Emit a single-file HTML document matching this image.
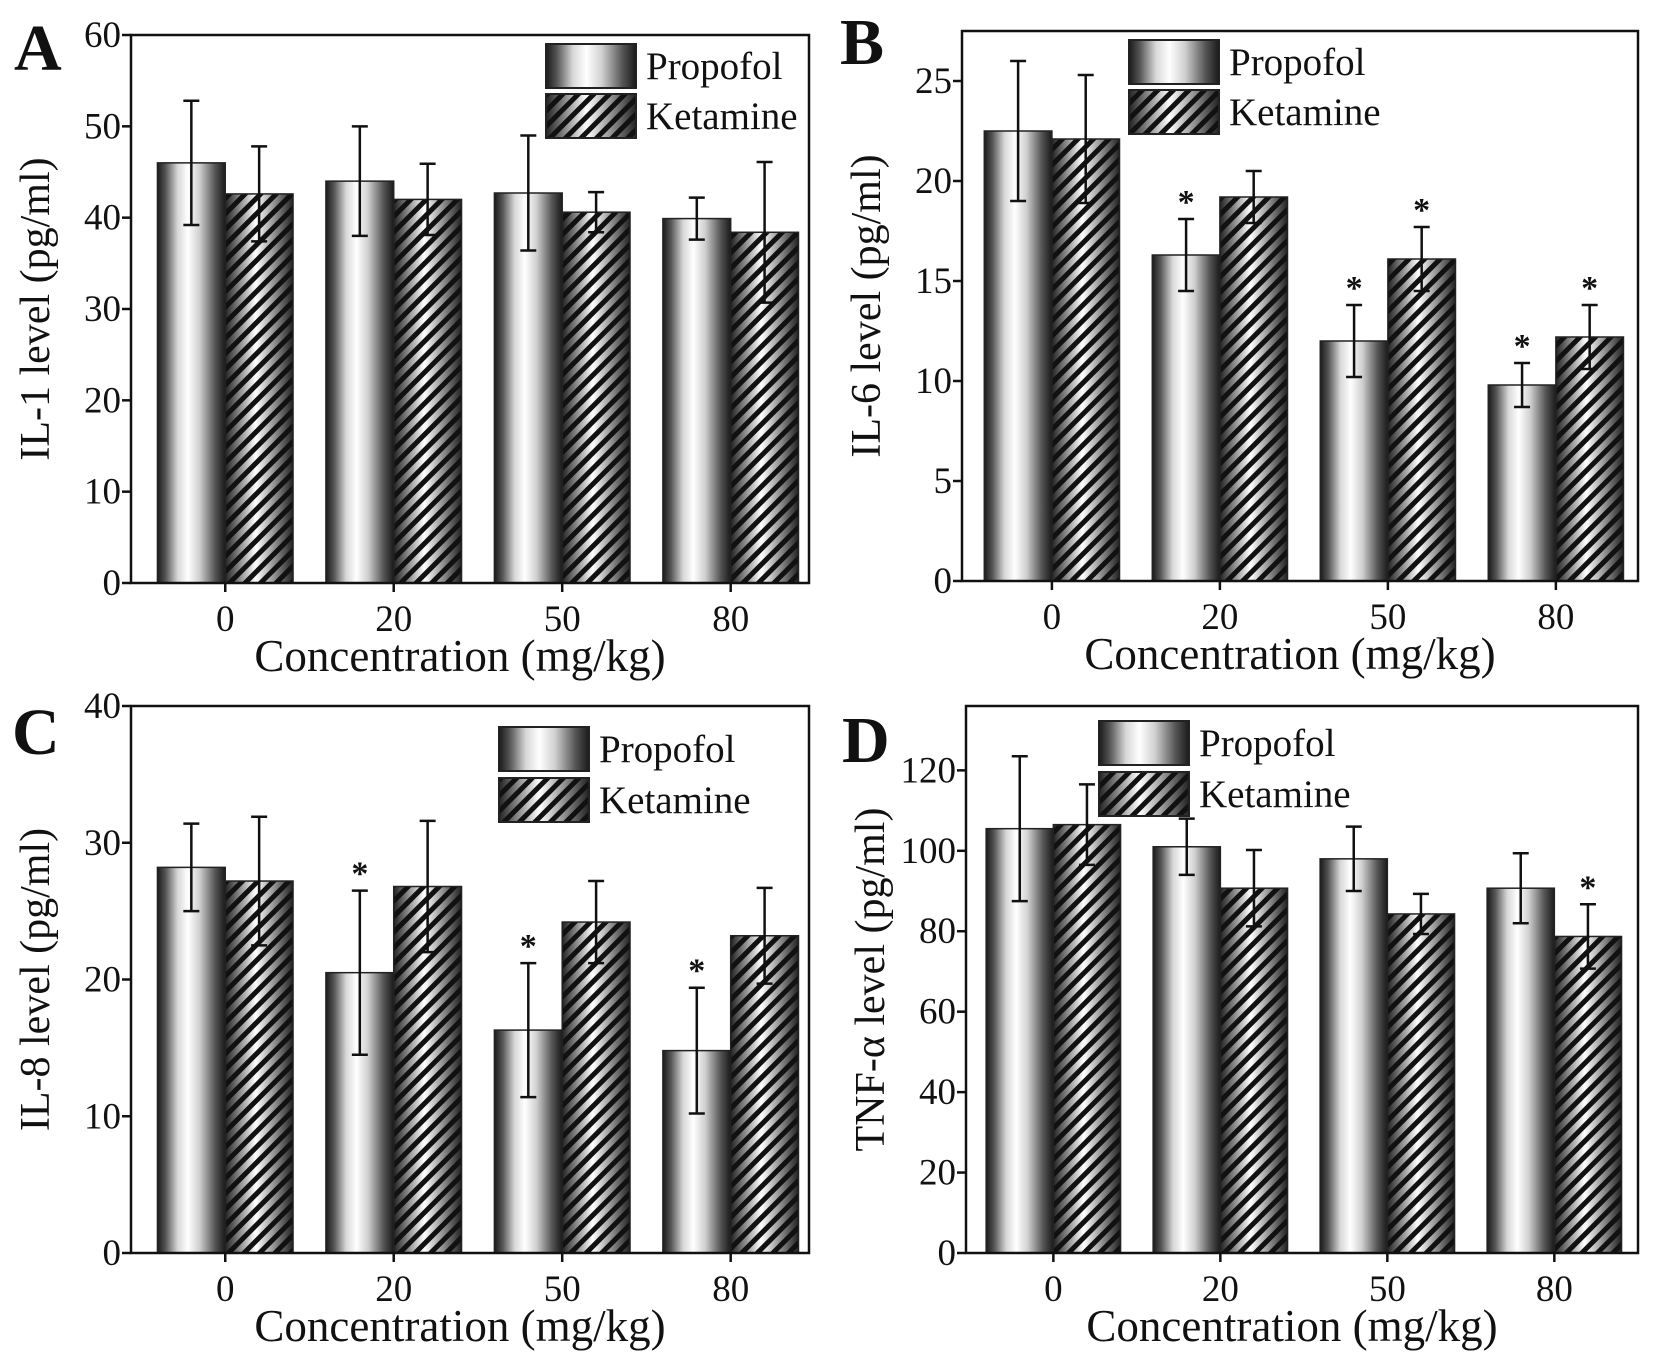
<!DOCTYPE html>
<html><head><meta charset="utf-8"><style>
html,body{margin:0;padding:0;background:#fff;}
svg text{font-family:"Liberation Serif",serif;fill:#111;}
</style></head><body>
<svg id="fig" xmlns="http://www.w3.org/2000/svg" width="1654" height="1363" viewBox="0 0 1654 1363">
<defs>
<linearGradient id="cyl" x1="0" x2="1" y1="0" y2="0">
<stop offset="0" stop-color="#1a1a1a"/><stop offset="0.12" stop-color="#555"/><stop offset="0.3" stop-color="#d8d8d8"/><stop offset="0.45" stop-color="#fff"/><stop offset="0.62" stop-color="#d0d0d0"/><stop offset="0.85" stop-color="#555"/><stop offset="1" stop-color="#1a1a1a"/>
</linearGradient>
<linearGradient id="cyl2" x1="0" x2="1" y1="0" y2="0">
<stop offset="0" stop-color="#222"/><stop offset="0.45" stop-color="#fff"/><stop offset="1" stop-color="#222"/>
</linearGradient>
<pattern id="hatch" patternUnits="userSpaceOnUse" width="11" height="11" patternTransform="rotate(45)">
<rect x="0" y="0" width="5" height="11" fill="#111"/>
</pattern>
</defs>
</svg>
<script>
const categories = ["0","20","50","80"];
const seriesNames = ["Propofol","Ketamine"];
const aProp = [46, 44, 42.7, 39.9];
const aPropErr = [6.8, 6, 6.3, 2.3];
const aKet = [42.6, 42, 40.6, 38.4];
const aKetErr = [5.2, 3.9, 2.2, 7.7];
const aTicks = [0,10,20,30,40,50,60];
const bProp = [22.5, 16.3, 12, 9.8];
const bPropErr = [3.5, 1.8, 1.8, 1.1];
const bKet = [22.1, 19.2, 16.1, 12.2];
const bKetErr = [3.2, 1.3, 1.6, 1.6];
const bTicks = [0,5,10,15,20,25];
const bPropStar = [false, true, true, true];
const bKetStar = [false, false, true, true];
const cProp = [28.2, 20.5, 16.3, 14.8];
const cPropErr = [3.2, 6, 4.9, 4.6];
const cKet = [27.2, 26.8, 24.2, 23.2];
const cKetErr = [4.7, 4.8, 3, 3.5];
const cTicks = [0,10,20,30,40];
const cPropStar = [false, true, true, true];
const dProp = [105.5, 101, 98, 90.7];
const dPropErr = [18, 7, 8, 8.7];
const dKet = [106.5, 90.7, 84.3, 78.7];
const dKetErr = [10, 9.5, 5, 8];
const dTicks = [0,20,40,60,80,100,120];
const dKetStar = [false, false, false, true];

const NS = "http://www.w3.org/2000/svg";
const svg = document.getElementById('fig');
function mk(tag, attrs, parent, txt){
  const e = document.createElementNS(NS, tag);
  for (const k in attrs) e.setAttribute(k, attrs[k]);
  if (txt !== undefined) e.textContent = txt;
  (parent||svg).appendChild(e);
  return e;
}
function panel(p){
  const g = mk('g', {});
  
  
  const L=p.l, R=p.r, T=p.t, B=p.b, W=R-L;
  const y = v => B - (v - 0) / p.ymax * (B - T);
  const cx = i => L + W * p.off + i * W * 0.2485;
  const bw = W * 0.1;
  for (let i = 0; i < categories.length; i++) {
    const x0 = cx(i) - bw, x1 = cx(i);
    const r1 = mk('rect', {x:x0, y:y(p.prop[i]), width:bw, height:B - y(p.prop[i]), fill:'url(#cyl)', stroke:'#222', 'stroke-width':1.5}, g);
    
    
    const r2 = mk('rect', {x:x1, y:y(p.ket[i]), width:bw, height:B - y(p.ket[i]), fill:'url(#cyl2)', stroke:'none'}, g);
    
    
    const r3 = mk('rect', {x:x1, y:y(p.ket[i]), width:bw, height:B - y(p.ket[i]), fill:'url(#hatch)', stroke:'#222', 'stroke-width':1.5}, g);
    
    
    const sets = [[x0 + bw/2, p.prop[i], p.propErr[i], p.propStar && p.propStar[i]], [x1 + bw/2, p.ket[i], p.ketErr[i], p.ketStar && p.ketStar[i]]];
    sets.forEach((s, j) => {
      const [ex, v, e, st] = s;
      const eb = mk('path', {d:`M${ex},${y(v+e)}V${y(v-e)}M${ex-8},${y(v+e)}H${ex+8}M${ex-8},${y(v-e)}H${ex+8}`, stroke:'#111', 'stroke-width':2.5, fill:'none'}, g);
      
      
      if (st) {
        const s1 = mk('text', {x:ex, y:y(v+e) - 6, 'text-anchor':'middle', 'font-size':34, 'font-weight':'bold'}, g, '*');
        
        
      }
    });
  }
  const fr = mk('rect', {x:L, y:T, width:W, height:B-T, fill:'none', stroke:'#111', 'stroke-width':2.5}, g);
  
  
  p.ticks.forEach(t => {
    const tk = mk('line', {x1:L-9, x2:L, y1:y(t), y2:y(t), stroke:'#111', 'stroke-width':2.5}, g);
    
    
    const tl = mk('text', {x:L-10, y:y(t)+12, 'text-anchor':'end', 'font-size':37}, g, String(t));
    
    
  });
  categories.forEach((c, i) => {
    const tk = mk('line', {x1:cx(i), x2:cx(i), y1:B, y2:B+9, stroke:'#111', 'stroke-width':2.5}, g);
    
    
    const tl = mk('text', {x:cx(i), y:B+48, 'text-anchor':'middle', 'font-size':37}, g, c);
    
    
  });
  const xt = mk('text', {x:(L+R)/2 - 10, y:B+88, 'text-anchor':'middle', 'font-size':45}, g, 'Concentration (mg/kg)');
  
  
  const yt = mk('text', {x:0, y:0, 'text-anchor':'middle', 'font-size':42, transform:`translate(${L-82},${(T+B)/2}) rotate(-90)`}, g, p.ylabel);
  
  
  const lt = mk('text', {x:p.lx0, y:p.ly0, 'font-size':66, 'font-weight':'bold'}, g, p.id);
  
  
  const lg = p.leg;
  [['url(#cyl)', seriesNames[0], lg.y1], ['url(#hatch)', seriesNames[1], lg.y2]].forEach((it, j) => {
    if (j === 1) mk('rect', {x:lg.x, y:it[2], width:90, height:44, fill:'url(#cyl2)'}, g);
    const lr = mk('rect', {x:lg.x, y:it[2], width:90, height:44, fill:it[0], stroke:'#222', 'stroke-width':2}, g);
    
    
    const lx = mk('text', {x:lg.x + 100, y:it[2] + 35, 'font-size':39}, g, it[1]);
    
    
  });
}
panel({id:'A', l:131, r:809, t:35, b:583, ymax:60, off:0.139, prop:aProp, propErr:aPropErr, ket:aKet, ketErr:aKetErr, ticks:aTicks, ylabel:'IL-1 level (pg/ml)', lx0:14, ly0:70, leg:{x:546, y1:44, y2:94}});
panel({id:'B', l:962, r:1638, t:31, b:581, ymax:27.5, off:0.133, prop:bProp, propErr:bPropErr, ket:bKet, ketErr:bKetErr, propStar:bPropStar, ketStar:bKetStar, ticks:bTicks, ylabel:'IL-6 level (pg/ml)', lx0:840, ly0:64, leg:{x:1129, y1:40, y2:90}});
panel({id:'C', l:131, r:809, t:706, b:1253, ymax:40, off:0.139, prop:cProp, propErr:cPropErr, ket:cKet, ketErr:cKetErr, propStar:cPropStar, ticks:cTicks, ylabel:'IL-8 level (pg/ml)', lx0:12, ly0:754, leg:{x:499, y1:727, y2:778}});
panel({id:'D', l:966, r:1638, t:706, b:1253, ymax:136, off:0.13, prop:dProp, propErr:dPropErr, ket:dKet, ketErr:dKetErr, ketStar:dKetStar, ticks:dTicks, ylabel:'TNF-α level (pg/ml)', lx0:842, ly0:762, leg:{x:1099, y1:721, y2:772}});
</script>
</body></html>
